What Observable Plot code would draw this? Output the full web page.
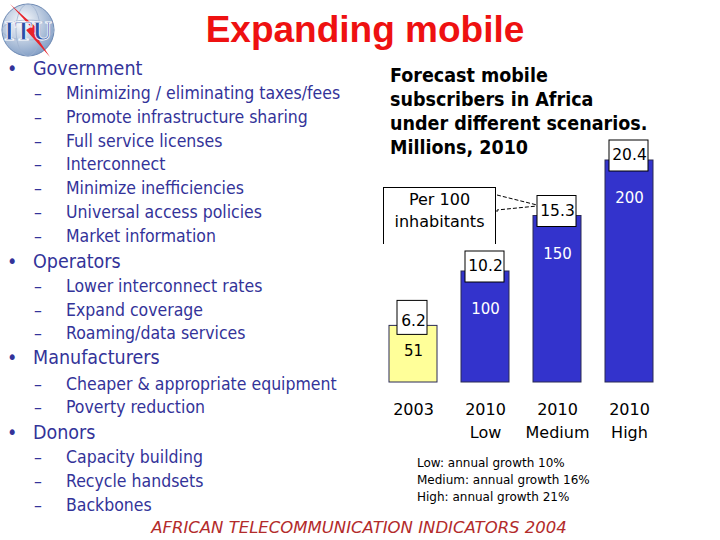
<!DOCTYPE html>
<html>
<head>
<meta charset="utf-8">
<script src="https://cdn.jsdelivr.net/npm/d3@7"></script>
<script src="https://cdn.jsdelivr.net/npm/@observablehq/plot@0.6"></script>
<style>
  html, body { margin: 0; padding: 0; background: white; }
  #page { position: relative; width: 720px; height: 540px; overflow: hidden; background: white; }
  .abs { position: absolute; white-space: nowrap; }
  .tahoma { font-family: "DejaVu Sans Condensed", "DejaVu Sans", sans-serif; }
  .l1 { font-size: 19.5px; color: #333399; height: 24px; line-height: 24px; }
  .l2 { font-size: 17.5px; color: #333399; height: 24px; line-height: 24px; }
  #title { left: 0; width: 730px; text-align: center; top: 10px; font-size: 37px; font-weight: bold; color: #ee1111;
           font-family: "Liberation Sans", Arial, sans-serif; line-height: 40px; }
  #ctitle { left: 390px; top: 64px; font-size: 19.5px; font-weight: bold; color: #000; line-height: 24px; }
  #note { left: 417px; top: 455px; font-family: "DejaVu Sans", sans-serif; font-size: 12px; line-height: 17px; color: #000; }
  #footer { left: 0; width: 718px; text-align: center; top: 517px; font-family: "DejaVu Sans", sans-serif; font-style: italic;
            font-size: 16.5px; color: #b32b2b; line-height: 22px; }
  #per100 { left: 383px; top: 187px; width: 113px; height: 57px; border: 1px solid #000; border-bottom: none; background: white;
            font-family: "DejaVu Sans", sans-serif; font-size: 16px; line-height: 22px; text-align: center; padding-top: 1px; box-sizing: border-box; }
  #chart { position: absolute; left: 360px; top: 130px; }
</style>
</head>
<body>
<div id="page">
  <svg class="abs" style="left:0;top:0" width="60" height="60">
    <defs>
      <radialGradient id="glb" cx="40%" cy="35%" r="70%">
        <stop offset="0" stop-color="#ffffff"/>
        <stop offset="1" stop-color="#7f9cc4"/>
      </radialGradient>
    </defs>
    <circle cx="28" cy="30" r="26" fill="url(#glb)" stroke="#6e8ab4" stroke-width="1"/>
    <ellipse cx="28" cy="30" rx="12" ry="26" fill="none" stroke="#9fb3cf" stroke-width="0.8"/>
    <ellipse cx="28" cy="30" rx="26" ry="10" fill="none" stroke="#9fb3cf" stroke-width="0.8"/>
    <polygon points="10,4 31,27 26,30 50,57 34,33 39,30" fill="#e8242b"/>
    <text x="28" y="40" text-anchor="middle" font-family="Liberation Serif" font-weight="bold" font-size="27" textLength="48" lengthAdjust="spacingAndGlyphs" fill="#2b4fa6" stroke="#ffffff" stroke-width="0.8">ITU</text>
  </svg>

  <div id="title" class="abs">Expanding mobile</div>

  <div id="bullets"></div>

  <div id="ctitle" class="abs tahoma"></div>

  <div id="chart"></div>

  <div id="per100" class="abs">Per 100<br>inhabitants</div>
  <svg class="abs" style="left:0;top:0;pointer-events:none" width="720" height="540">
    <line x1="497" y1="195" x2="537" y2="205" stroke="#000" stroke-width="1" stroke-dasharray="4,2"/>
    <polyline points="497,212 497,210 537,206" fill="none" stroke="#000" stroke-width="1" stroke-dasharray="4,2"/>
  </svg>

  <div id="note" class="abs"></div>
  <div id="footer" class="abs">AFRICAN TELECOMMUNICATION INDICATORS 2004</div>
</div>

<script>
// ---- slide text ----
const bulletHeads = ["Government", "Operators", "Manufacturers", "Donors"];
const bulletItems = [
  ["Minimizing / eliminating taxes/fees", "Promote infrastructure sharing", "Full service licenses",
   "Interconnect", "Minimize inefficiencies", "Universal access policies", "Market information"],
  ["Lower interconnect rates", "Expand coverage", "Roaming/data services"],
  ["Cheaper & appropriate equipment", "Poverty reduction"],
  ["Capacity building", "Recycle handsets", "Backbones"]
];
const chartTitleLines = ["Forecast mobile", "subscribers in Africa", "under different scenarios.", "Millions, 2010"];
const noteLines = ["Low: annual growth 10%", "Medium: annual growth 16%", "High: annual growth 21%"];

// ---- chart data ----
const categories = ["2003", "2010 Low", "2010 Medium", "2010 High"];
const tickLabels = ["2003", "2010\nLow", "2010\nMedium", "2010\nHigh"];
const subscribers = [51, 100, 150, 200];          // millions
const per100 = [6.2, 10.2, 15.3, 20.4];           // per 100 inhabitants
const barColors = ["#ffff99", "#3333cc", "#3333cc", "#3333cc"];
const labelColors = ["#000000", "#ffffff", "#ffffff", "#ffffff"];

// build bullets (layout positions)
const headCenters = [69, 262, 358, 433];
const itemCenters = [[93, 117, 141, 164, 188, 212, 236], [286, 310, 333], [384, 407], [457, 481, 505]];
const bl = document.getElementById("bullets");
bulletHeads.forEach((h, k) => {
  const dot = document.createElement("div");
  dot.className = "abs tahoma l1"; dot.style.left = "7px"; dot.style.top = (headCenters[k] - 12) + "px";
  dot.textContent = "•"; bl.appendChild(dot);
  const t = document.createElement("div");
  t.className = "abs tahoma l1"; t.style.left = "33px"; t.style.top = (headCenters[k] - 12) + "px";
  t.textContent = h; bl.appendChild(t);
  bulletItems[k].forEach((s, j) => {
    const d = document.createElement("div");
    d.className = "abs tahoma l2"; d.style.left = "34px"; d.style.top = (itemCenters[k][j] - 12) + "px";
    d.textContent = "–"; bl.appendChild(d);
    const e = document.createElement("div");
    e.className = "abs tahoma l2"; e.style.left = "66px"; e.style.top = (itemCenters[k][j] - 12) + "px";
    e.textContent = s; bl.appendChild(e);
  });
});
document.getElementById("ctitle").innerHTML = chartTitleLines.join("<br>");
document.getElementById("note").innerHTML = noteLines.join("<br>");

// ---- chart ----
const data = categories.map((c, i) => ({
  cat: c, tick: tickLabels[i], subs: subscribers[i], per100: per100[i],
  color: barColors[i], labelColor: labelColors[i], idx: i
}));

const chart = Plot.plot({
  width: 360, height: 330,
  marginLeft: 3, marginRight: 41, marginTop: 30, marginBottom: 78,
  style: { background: "transparent", overflow: "visible", fontFamily: "DejaVu Sans, sans-serif" },
  x: { domain: categories, padding: 0.33, axis: null },
  y: { domain: [0, 200], axis: null },
  color: { type: "identity" },
  marks: [
    Plot.barY(data, { x: "cat", y: "subs", fill: "color", stroke: "#2a2a55", strokeWidth: 1 }),
    Plot.text(data.filter(d => d.idx === 0), { x: "cat", y: "subs", text: d => String(d.subs), fill: "labelColor", fontSize: 15, dy: 25 }),
    Plot.text(data.filter(d => d.idx > 0), { x: "cat", y: "subs", text: d => String(d.subs), fill: "labelColor", fontSize: 15, dy: 38 }),
    Plot.barY(data.filter(d => d.idx === 0), { x: "cat", y1: "subs", y2: "subs", insetTop: -25, insetBottom: -9, insetLeft: 8, insetRight: 10, fill: "white", stroke: "#000", strokeWidth: 1 }),
    Plot.barY(data.filter(d => d.idx > 0), { x: "cat", y1: "subs", y2: "subs", insetTop: -20, insetBottom: -11, insetLeft: 4, insetRight: 5, fill: "white", stroke: "#000", strokeWidth: 1 }),
    Plot.text(data, { x: "cat", y: "subs", text: d => d.per100.toFixed(1), fill: "#000", fontSize: 15.5, dy: -5 }),
    Plot.text(data, { x: "cat", text: "tick", frameAnchor: "bottom", lineAnchor: "top", dy: 17, fontSize: 16, lineHeight: 1.4, fill: "#000" })
  ]
});
document.getElementById("chart").appendChild(chart);
</script>
</body>
</html>
